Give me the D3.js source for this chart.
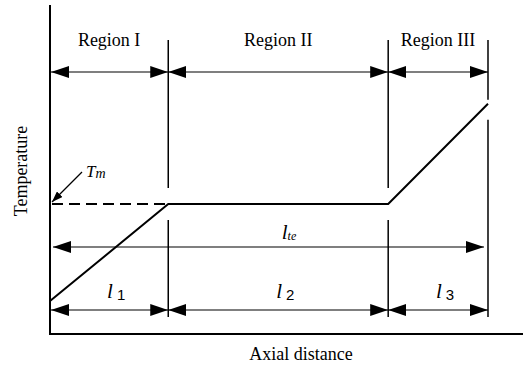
<!DOCTYPE html>
<html>
<head>
<meta charset="utf-8">
<script src="https://cdn.jsdelivr.net/npm/d3@7"></script>
<style>
  html, body { margin: 0; padding: 0; background: #fff; }
  text { font-family: "Liberation Serif", "Times New Roman", serif; fill: #000; }
</style>
</head>
<body>
<div id="chart"></div>
<script>
// --- Data ---
const regionNames = ["Region I", "Region II", "Region III"];
const lengthLabels = ["1", "2", "3"];
// axial positions of region boundaries (arbitrary units)
const boundaries = [0, 25, 71.5, 92.6];
// temperature profile (arbitrary units)
const profileX = [0, 25, 71.5, 92.6];
const profileT = [10, 39.5, 39.5, 70];
const meltTemp = 39.5;

// --- Dimensions ---
const width = 525;
const height = 368;
const x0 = 50;
const yBase = 334;

const x = d3.scaleLinear().domain([0, 100]).range([x0, 523]);
const y = d3.scaleLinear().domain([0, 100]).range([yBase, 5]);

const svg = d3
  .select("#chart")
  .append("svg")
  .attr("width", width)
  .attr("height", height);

svg.append("rect").attr("width", width).attr("height", height).attr("fill", "#fff");

// --- Arrow markers ---
const defs = svg.append("defs");
defs
  .append("marker")
  .attr("id", "head")
  .attr("viewBox", "0 0 18 12")
  .attr("refX", 18)
  .attr("refY", 6)
  .attr("markerWidth", 18)
  .attr("markerHeight", 12)
  .attr("markerUnits", "userSpaceOnUse")
  .attr("orient", "auto-start-reverse")
  .append("path")
  .attr("d", "M0,0L18,6L0,12Z")
  .attr("fill", "#000");

defs
  .append("marker")
  .attr("id", "small-head")
  .attr("viewBox", "0 0 11 8")
  .attr("refX", 11)
  .attr("refY", 4)
  .attr("markerWidth", 11)
  .attr("markerHeight", 8)
  .attr("markerUnits", "userSpaceOnUse")
  .attr("orient", "auto")
  .append("path")
  .attr("d", "M0,0L11,4L0,8Z")
  .attr("fill", "#000");

// --- Axes ---
svg.append("line")
  .attr("x1", x0).attr("x2", x0)
  .attr("y1", 5).attr("y2", yBase + 1)
  .attr("stroke", "#000").attr("stroke-width", 2);

svg.append("line")
  .attr("x1", x0 - 1).attr("x2", x(100))
  .attr("y1", yBase).attr("y2", yBase)
  .attr("stroke", "#000").attr("stroke-width", 2);

svg.append("text")
  .attr("transform", `translate(27,171) rotate(-90)`)
  .attr("text-anchor", "middle")
  .style("font-size", "18px")
  .text("Temperature");

svg.append("text")
  .attr("x", 301)
  .attr("y", 360)
  .attr("text-anchor", "middle")
  .style("font-size", "18px")
  .text("Axial distance");

// --- Region boundary lines (broken where the profile crosses) ---
const topRow = 72;
const lteRow = 247;
const lowRow = 310;
const gapAbove = [0, 16, 16, 4];
const gapBelow = [0, 16, 16, 16];

boundaries.slice(1).forEach((b, i) => {
  const cy = y(profileT[i + 1]);
  const segs = [
    [40, cy - gapAbove[i + 1]],
    [cy + gapBelow[i + 1], 317],
  ];
  segs.forEach(([a, c]) => {
    svg.append("line")
      .attr("x1", x(b)).attr("x2", x(b))
      .attr("y1", a).attr("y2", c)
      .attr("stroke", "#000").attr("stroke-width", 1.5);
  });
});

// --- Region labels and arrows ---
regionNames.forEach((name, i) => {
  const xa = x(boundaries[i]);
  const xb = x(boundaries[i + 1]);
  svg.append("text")
    .attr("x", (xa + xb) / 2)
    .attr("y", 46)
    .attr("text-anchor", "middle")
    .style("font-size", "18px")
    .text(name);

  [topRow, lowRow].forEach((row) => {
    svg.append("line")
      .attr("x1", xa + (i === 0 ? 1 : 0)).attr("x2", xb)
      .attr("y1", row).attr("y2", row)
      .attr("stroke", "#000").attr("stroke-width", 1.2)
      .attr("marker-start", "url(#head)")
      .attr("marker-end", "url(#head)");
  });

  const lbl = svg.append("text")
    .attr("x", (xa + xb) / 2 + 7)
    .attr("y", 298)
    .attr("text-anchor", "middle");
  lbl.append("tspan")
    .style("font-size", "21px")
    .style("font-style", "italic")
    .text("l");
  lbl.append("tspan")
    .attr("dx", 4)
    .attr("dy", 2)
    .style("font-size", "15px")
    .style("font-family", "Liberation Sans, Arial, sans-serif")
    .text(lengthLabels[i]);
});

// --- Total length arrow l_te ---
svg.append("line")
  .attr("x1", x(boundaries[0]) + 3)
  .attr("x2", x(boundaries[3]) - 4)
  .attr("y1", lteRow).attr("y2", lteRow)
  .attr("stroke", "#000").attr("stroke-width", 1.2)
  .attr("marker-start", "url(#head)")
  .attr("marker-end", "url(#head)");

const lte = svg.append("text")
  .attr("x", 289)
  .attr("y", 239)
  .attr("text-anchor", "middle");
lte.append("tspan")
  .style("font-size", "21px")
  .style("font-style", "italic")
  .text("l");
lte.append("tspan")
  .attr("dy", 1)
  .style("font-size", "12px")
  .style("font-style", "italic")
  .text("te");

// --- Melting temperature dashed line ---
svg.append("line")
  .attr("x1", x(0) + 2).attr("x2", x(boundaries[1]))
  .attr("y1", y(meltTemp)).attr("y2", y(meltTemp))
  .attr("stroke", "#000").attr("stroke-width", 2)
  .attr("stroke-dasharray", "11,6");

svg.append("line")
  .attr("x1", 82).attr("y1", 172)
  .attr("x2", x(0) + 2).attr("y2", y(meltTemp) - 2)
  .attr("stroke", "#000").attr("stroke-width", 1.2)
  .attr("marker-end", "url(#small-head)");

const tm = svg.append("text").attr("x", 86).attr("y", 177);
tm.append("tspan")
  .style("font-size", "17px")
  .style("font-style", "italic")
  .text("T");
tm.append("tspan")
  .attr("dy", 1)
  .style("font-size", "14px")
  .style("font-style", "italic")
  .text("m");

// --- Temperature profile ---
const line = d3
  .line()
  .x((d, i) => x(profileX[i]))
  .y((d) => y(d));

svg.append("path")
  .datum(profileT)
  .attr("d", line)
  .attr("fill", "none")
  .attr("stroke", "#000")
  .attr("stroke-width", 2);
</script>
</body>
</html>
